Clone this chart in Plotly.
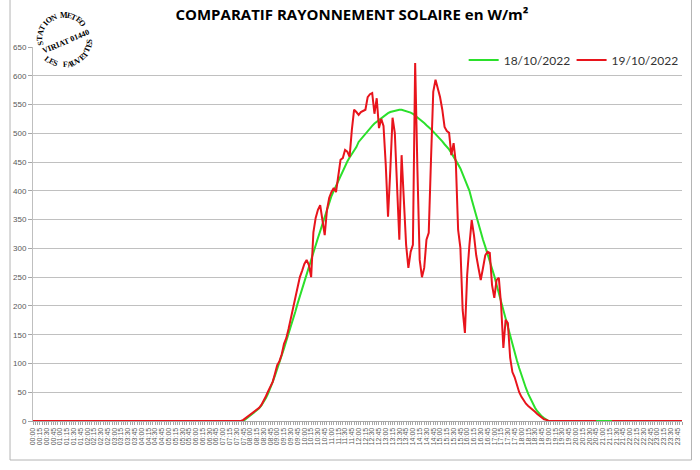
import math
import plotly.graph_objects as go

# categories: one reading every 5 minutes, 00:00 -> 23:55
heures = ["%02d:%02d" % (m // 60, m % 60) for m in range(0, 1440, 5)]
# labels only every quarter hour
etiquettes = [h if int(h[3:]) % 15 == 0 else "" for h in heures]

# 18/10/2022, from 07:45 to 19:00 (W/m²)
jour_18 = [0, 3, 6, 9, 12, 15, 18, 22, 27, 33, 40, 48, 57, 68, 79, 90, 101, 113,
           126, 139, 151, 164, 176, 190, 204, 217, 230, 244, 257, 270, 282, 294,
           306, 318, 330, 343, 355, 368, 381, 391, 400, 409, 418, 427, 435, 443,
           451, 458, 464, 470, 476, 485, 490, 495, 500, 505, 509, 513, 517, 520,
           524, 527, 530, 532, 535, 537, 538, 540, 540, 541, 541, 540, 539, 538,
           536, 534, 531, 528, 525, 521, 518, 514, 511, 507, 503, 499, 495, 491,
           486, 481, 477, 472, 466, 460, 453, 446, 439, 430, 420, 410, 400, 385,
           370, 355, 340, 327, 315, 303, 291, 278, 265, 252, 237, 222, 207, 192,
           176, 160, 145, 131, 118, 105, 92, 79, 68, 57, 47, 38, 30, 23, 17, 12,
           8, 5, 2, 0]

# 19/10/2022, from 07:45 to 19:00 (W/m²)
jour_19 = [2, 5, 8, 10, 13, 17, 19, 23, 28, 35, 43, 52, 59, 68, 82, 97, 104, 116,
           134, 144, 160, 179, 195, 212, 231, 250, 261, 273, 280, 271, 250, 328,
           353, 367, 375, 346, 323, 367, 388, 398, 405, 398, 428, 454, 457, 471,
           468, 459, 506, 541, 537, 532, 537, 539, 541, 563, 568, 570, 534, 561,
           509, 525, 513, 445, 355, 436, 527, 501, 419, 315, 462, 384, 306, 266,
           294, 306, 622, 436, 280, 250, 266, 315, 327, 454, 572, 593, 580, 563,
           541, 511, 504, 501, 462, 483, 448, 332, 301, 193, 153, 254, 306, 349,
           323, 288, 266, 245, 266, 288, 294, 292, 236, 214, 245, 249, 202, 127,
           176, 170, 110, 85, 76, 61, 50, 42, 35, 30, 26, 23, 19, 16, 12, 9, 5,
           3, 2, 0]

serie_18 = [0] * 93 + jour_18 + [0] * 59
# the 19th has a gap in the records around 20:45 - 21:15
serie_19 = [0] * 93 + jour_19 + [0] * 21 + [None] * 6 + [0] * 32

# plot area in pixels (700x470 page)
L, R, T, B = 33, 682.5, 47, 421


def px(x):
    return (x - L) / (R - L)


def py(y):
    return (B - y) / (B - T)


fig = go.Figure()
fig.add_trace(go.Scatter(x=heures, y=serie_18, mode="lines", name="18/10/2022",
                         line=dict(color="#2be02b", width=2), showlegend=True))
fig.add_trace(go.Scatter(x=heures, y=serie_19, mode="lines", name="19/10/2022",
                         line=dict(color="#e8141c", width=2), connectgaps=False,
                         legend="legend2", showlegend=True))

leg = dict(orientation="h", xanchor="left", yanchor="middle", y=py(60),
           font=dict(family="Lato", size=12, color="#333333"),
           itemwidth=30, bgcolor="rgba(0,0,0,0)")

fig.update_layout(
    width=700, height=470, showlegend=True,
    margin=dict(l=L, r=700 - R, t=T, b=470 - B, autoexpand=False),
    paper_bgcolor="white", plot_bgcolor="white",
    title=dict(text="<b>COMPARATIF RAYONNEMENT SOLAIRE en W/m²</b>",
               x=352 / 700, xanchor="center", y=1 - 15 / 470, yanchor="middle",
               font=dict(family="Open Sans", size=15, color="black")),
    legend=dict(leg, x=px(464)),
    legend2=dict(leg, x=px(572)),
    xaxis=dict(type="category", range=[0, 287], tickmode="array",
               tickvals=heures, ticktext=etiquettes, tickangle=-90,
               tickfont=dict(family="Liberation Sans", size=7, color="#595959"),
               ticks="outside", ticklen=3, tickcolor="#a6a6a6",
               showline=True, linecolor="#a6a6a6", showgrid=False),
    yaxis=dict(range=[0, 650], dtick=50, showgrid=True, gridcolor="#c0c0c0",
               gridwidth=1, zeroline=False, showline=True, linecolor="#bfbfbf",
               ticks="outside", ticklen=4, tickcolor="#a6a6a6",
               tickfont=dict(family="Liberation Sans", size=8, color="#595959")),
)

# outer chart border (right, bottom, left sides)
bord = dict(color="#b4b4b4", width=1)
fig.add_shape(type="line", xref="paper", yref="paper", x0=px(692), x1=px(692),
              y0=py(0), y1=py(460), line=bord)
fig.add_shape(type="line", xref="paper", yref="paper", x0=px(10), x1=px(692),
              y0=py(460), y1=py(460), line=bord)
fig.add_shape(type="line", xref="paper", yref="paper", x0=px(10), x1=px(10),
              y0=py(0), y1=py(460), line=bord)

# round stamp of the station, top left
cx, cy = 64, 39
stamp = dict(family="Liberation Serif", size=8, color="black")


def lettre(c, x, y, angle):
    fig.add_annotation(x=px(x), y=py(y), xref="paper", yref="paper",
                       xanchor="center", yanchor="middle", text="<b>%s</b>" % c,
                       showarrow=False, textangle=angle, font=stamp)


haut = "STATION METEO"
for k, c in enumerate(haut):
    a = 190 - k * (150 / (len(haut) - 1))
    lettre(c, cx + 24 * math.cos(math.radians(a)), cy - 24 * math.sin(math.radians(a)), 90 - a)
bas = "LES FAUVETTES"
for k, c in enumerate(bas):
    a = 231 + k * (125 / (len(bas) - 1))
    lettre(c, cx + 26 * math.cos(math.radians(a)), cy - 26 * math.sin(math.radians(a)), 270 - a)
lettre("VIRIAT 01440", 66, 42, -23)

fig.write_html("out.html", post_script="document.body.style.margin='0px';",
               config={"displayModeBar": False})
